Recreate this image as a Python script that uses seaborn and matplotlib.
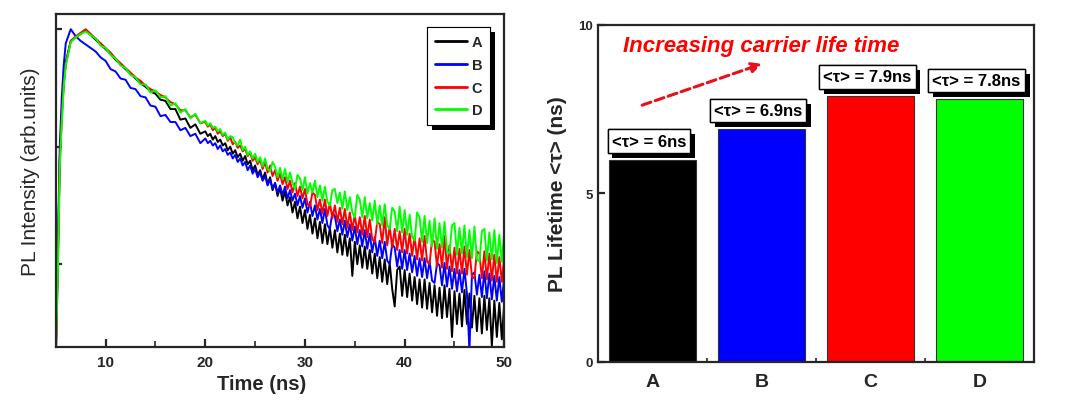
import numpy as np
import pandas as pd
import seaborn as sns
import matplotlib
matplotlib.use("Agg")
import matplotlib.pyplot as plt
import matplotlib.patheffects as pe
from matplotlib.ticker import MultipleLocator, NullFormatter, NullLocator, FixedLocator

# ---- left panel: PL decay curves (log10 intensity x100) ----
rise_time = [5.0, 5.2, 5.4, 5.6, 5.8, 6.0, 6.5, 7.0, 7.5, 8.0]
time = np.concatenate([rise_time, np.arange(8.5, 20, 0.5), np.arange(20, 50.001, 0.25)])

rise_A = [-280, -200, -110, -72, -45, -28, -10, -7, -4, -1]
rise_B = [-280, -190, -100, -58, -30, -12, 0, -6, -10, -13]
rise_C = [-280, -205, -114, -76, -47, -30, -10, -6, -3, 0]
rise_D = [-280, -210, -118, -80, -49, -31, -11, -7, -4, -2]

# 8.5 .. 19.5 ns, every 0.5 ns
early_A = [-5, -9, -13, -17, -21, -26, -30, -34, -38, -42, -46, -49,
           -53, -55, -60, -61, -68, -68, -77, -76, -84, -81, -89]
early_B = [-16, -19, -24, -27, -34, -36, -42, -43, -50, -51, -57, -58,
           -65, -66, -74, -73, -79, -79, -86, -84, -91, -89, -97]
early_C = [-4, -8, -12, -16, -20, -25, -29, -33, -37, -41, -44, -48,
           -51, -53, -56, -58, -62, -64, -69, -69, -75, -73, -80]
early_D = [-5, -8, -14, -16, -22, -25, -31, -33, -39, -41, -47, -47,
           -54, -52, -58, -57, -65, -63, -71, -68, -76, -72, -80]

# 20 .. 50 ns, every 0.25 ns (one row = 2 ns)
late_A = [-87, -91, -89, -94, -91, -96, -94, -99,
          -97, -103, -100, -106, -103, -109, -106, -112,
          -108, -115, -112, -120, -116, -124, -120, -128,
          -122, -132, -126, -137, -131, -142, -135, -146,
          -138, -150, -143, -156, -147, -161, -151, -165,
          -154, -170, -158, -174, -161, -178, -164, -182,
          -166, -183, -169, -186, -171, -190, -174, -192,
          -175, -193, -178, -210, -181, -200, -184, -203,
          -185, -204, -188, -208, -191, -212, -194, -215,
          -196, -217, -199, -221, -236, -205, -202, -227,
          -205, -228, -208, -231, -211, -234, -213, -237,
          -213, -238, -216, -241, -218, -244, -220, -246,
          -218, -245, -221, -262, -223, -251, -225, -253,
          -222, -251, -225, -254, -227, -257, -229, -259,
          -227, -256, -229, -270, -231, -262, -233, -264,
          -232]
late_B = [-93, -97, -95, -99, -97, -102, -99, -104,
          -102, -107, -105, -110, -107, -113, -110, -116,
          -113, -120, -116, -123, -119, -126, -122, -129,
          -125, -133, -128, -136, -131, -139, -133, -141,
          -134, -144, -137, -146, -140, -150, -142, -152,
          -144, -156, -147, -159, -150, -162, -153, -165,
          -153, -167, -170, -156, -159, -172, -162, -175,
          -163, -177, -166, -180, -168, -183, -171, -185,
          -171, -187, -174, -190, -177, -193, -180, -195,
          -181, -197, -200, -183, -186, -202, -188, -204,
          -188, -205, -191, -207, -193, -210, -195, -211,
          -195, -212, -197, -214, -216, -199, -201, -218,
          -199, -219, -202, -221, -204, -223, -205, -224,
          -204, -225, -274, -209, -207, -226, -209, -228,
          -206, -229, -208, -230, -210, -231, -211, -232,
          -210]
late_C = [-79, -83, -81, -86, -84, -89, -87, -91,
          -89, -95, -92, -98, -96, -101, -99, -104,
          -102, -108, -105, -112, -109, -115, -111, -119,
          -113, -122, -116, -125, -120, -129, -123, -132,
          -126, -136, -129, -139, -131, -142, -134, -144,
          -136, -149, -151, -139, -141, -154, -145, -157,
          -145, -159, -148, -161, -150, -164, -152, -166,
          -153, -169, -156, -171, -158, -173, -160, -175,
          -159, -177, -162, -179, -181, -164, -166, -182,
          -160, -184, -168, -186, -170, -188, -172, -190,
          -170, -191, -174, -193, -176, -196, -178, -197,
          -176, -198, -200, -179, -181, -202, -183, -203,
          -176, -204, -184, -206, -186, -208, -187, -208,
          -185, -209, -188, -211, -212, -189, -191, -212,
          -189, -213, -191, -214, -192, -215, -194, -215,
          -193]
late_D = [-78, -82, -80, -84, -83, -87, -85, -90,
          -88, -94, -91, -92, -97, -99, -94, -103,
          -100, -107, -104, -110, -106, -113, -109, -117,
          -110, -119, -121, -113, -117, -126, -118, -128,
          -119, -130, -122, -131, -136, -124, -127, -137,
          -126, -140, -131, -139, -129, -143, -133, -146,
          -134, -147, -150, -137, -136, -148, -139, -153,
          -138, -154, -143, -156, -160, -141, -145, -160,
          -143, -161, -148, -163, -146, -166, -150, -167,
          -149, -167, -170, -152, -155, -172, -151, -173,
          -154, -175, -158, -177, -180, -156, -160, -181,
          -159, -182, -163, -185, -161, -187, -165, -186,
          -164, -189, -191, -167, -165, -192, -169, -191,
          -167, -194, -171, -195, -168, -196, -198, -172,
          -170, -197, -173, -196, -171, -199, -175, -198,
          -172]

samples = ["A", "B", "C", "D"]
line_colors = ["#000000", "#0000ff", "#ff0000", "#00ff00"]
curves = {
    "A": rise_A + early_A + late_A,
    "B": rise_B + early_B + late_B,
    "C": rise_C + early_C + late_C,
    "D": rise_D + early_D + late_D,
}

# ---- right panel: lifetimes ----
lifetime = [6.0, 6.9, 7.9, 7.8]
lifetime_labels = ["<τ> = 6ns", "<τ> = 6.9ns", "<τ> = 7.9ns", "<τ> = 7.8ns"]

sns.set_style("ticks")
plt.rcParams["font.family"] = ["Liberation Sans", "DejaVu Sans"]
plt.rcParams["axes.linewidth"] = 1.6

fig = plt.figure(figsize=(10.73, 4.10), dpi=100)
ax1 = fig.add_axes([0.052, 0.151, 0.418, 0.812])
ax2 = fig.add_axes([0.557, 0.115, 0.407, 0.822])

frames = []
for s in samples:
    frames.append(pd.DataFrame({"time": time,
                                "intensity": 10 ** (np.array(curves[s]) / 100.0),
                                "sample": s}))
df = pd.concat(frames, ignore_index=True)

sns.lineplot(data=df, x="time", y="intensity", hue="sample", palette=line_colors,
             estimator=None, linewidth=1.4, ax=ax1, legend=False)
ax1.set_yscale("log")
ax1.set_xlim(5, 50)
ax1.set_ylim(10 ** -2.706, 10 ** 0.128)
ax1.yaxis.set_major_locator(FixedLocator([0.01, 0.1, 1]))
ax1.yaxis.set_major_formatter(NullFormatter())
ax1.yaxis.set_minor_locator(NullLocator())
ax1.xaxis.set_major_locator(MultipleLocator(10))
ax1.xaxis.set_minor_locator(MultipleLocator(5))
ax1.tick_params(axis="x", which="major", direction="in", length=6, width=1.6,
                labelsize=11, pad=6)
ax1.tick_params(axis="x", which="minor", direction="in", length=4, width=1.2)
ax1.tick_params(axis="y", which="major", direction="in", length=4, width=1.6)
for lab in ax1.get_xticklabels():
    lab.set_fontweight("bold")
ax1.set_xlabel("Time (ns)", fontsize=14.5, fontweight="bold", labelpad=2)
ax1.xaxis.set_label_coords(0.46, -0.08)
ax1.set_ylabel("PL Intensity (arb.units)", fontsize=15, labelpad=6)
ax1.yaxis.set_label_coords(-0.035, 0.53)
for sp in ax1.spines.values():
    sp.set_visible(True)
    sp.set_linewidth(1.6)

handles = [plt.Line2D([], [], color=c, lw=2) for c in line_colors]
leg = ax1.legend(handles, samples, loc="upper right", bbox_to_anchor=(0.969, 0.961),
                 frameon=True, fancybox=False, edgecolor="k", framealpha=1,
                 prop={"weight": "bold", "size": 10.5}, handlelength=2.2,
                 handletextpad=0.3, labelspacing=0.6, borderpad=0.55,
                 borderaxespad=0)
leg.get_frame().set_linewidth(0.8)
leg.get_frame().set_path_effects([pe.withSimplePatchShadow(offset=(3.5, -3.5),
                                                           shadow_rgbFace="k", alpha=1.0),
                                  pe.Normal()])

# right panel
bar_df = pd.DataFrame({"sample": samples, "lifetime": lifetime})
sns.barplot(data=bar_df, x="sample", y="lifetime", hue="sample",
            palette=line_colors, saturation=1, width=0.8, edgecolor="#333333",
            linewidth=0.8, legend=False, ax=ax2)
ax2.set_xlim(-0.5, 3.5)
ax2.set_ylim(0, 10)
ax2.set_yticks([0, 5, 10])
ax2.xaxis.set_minor_locator(FixedLocator([0.5, 1.5, 2.5]))
ax2.tick_params(axis="x", which="major", direction="in", length=6, width=1.6,
                labelsize=14, pad=8)
ax2.tick_params(axis="x", which="minor", direction="in", length=3, width=1.2)
ax2.tick_params(axis="y", which="major", direction="in", length=5, width=1.6,
                labelsize=9.5)
for lab in ax2.get_xticklabels() + ax2.get_yticklabels():
    lab.set_fontweight("bold")
ax2.set_xlabel("")
ax2.set_ylabel("PL Lifetime <τ> (ns)", fontsize=15, fontweight="bold", labelpad=8)
for sp in ax2.spines.values():
    sp.set_visible(True)
    sp.set_linewidth(1.6)

for i, (v, txt) in enumerate(zip(lifetime, lifetime_labels)):
    t = ax2.text(i - 0.03, v + 0.33, txt, ha="center", va="bottom",
                 fontsize=12, fontweight="bold", color="k", zorder=5,
                 bbox=dict(boxstyle="square,pad=0.25", fc="white", ec="k", lw=1))
    t.get_bbox_patch().set_path_effects([pe.withSimplePatchShadow(offset=(3.5, -3.5),
                                                                  shadow_rgbFace="k",
                                                                  alpha=1.0),
                                         pe.Normal()])

ax2.text(-0.27, 9.4, "Increasing carrier life time", color="#ff0000",
         fontsize=16, fontweight="bold", fontstyle="italic", ha="left", va="center")
ax2.annotate("", xy=(1.03, 8.87), xytext=(-0.116, 7.59),
             arrowprops=dict(arrowstyle="-|>,head_length=0.6,head_width=0.3",
                             color="#e8101a", lw=2.2, linestyle=(0, (3, 1.5))))

fig.savefig("out.png", dpi=100)
